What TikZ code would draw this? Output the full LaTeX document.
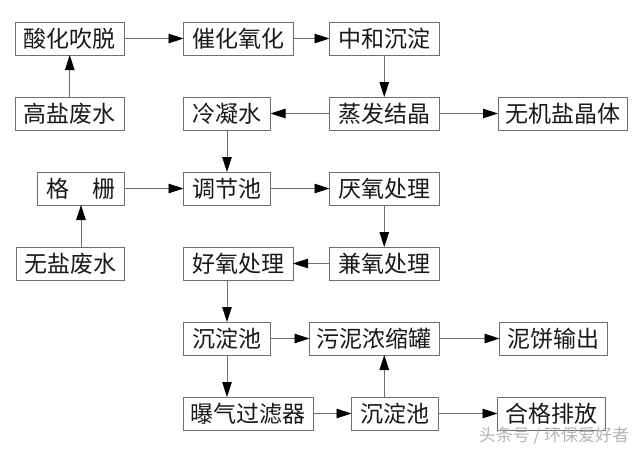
\documentclass[tikz,border=0pt]{standalone}
\usepackage{fontspec}
\setmainfont{Noto Sans CJK SC}
\usetikzlibrary{arrows.meta, positioning}
\definecolor{linegray}{HTML}{6E6E6E}
\definecolor{markgray}{HTML}{B4B4B4}

\begin{document}
\begin{tikzpicture}[x=1pt,y=-1pt,>={Triangle[length=15pt,width=9.5pt,color=black,fill=black]},
        line width=0.8pt,
        main node/.style={rectangle,draw=linegray,inner sep=0pt,outer sep=0pt,minimum height=33pt,
          font=\fontsize{23}{26}\selectfont,text=black!90},
        w3/.style={main node,minimum width=87pt},
        w4/.style={main node,minimum width=109.5pt},
        w5/.style={main node,minimum width=129.5pt},
        ws/.style={main node,minimum width=107.75pt}]
    \useasboundingbox (0,0) rectangle (640,450);
    \node[w4] (1) at (69.75,38.5) {酸化吹脱};
    \node[w4] (2) [right=59pt of 1] {催化氧化};
    \node[w4] (3) [right=36.5pt of 2] {中和沉淀};
    \node[w4] (4) [below=42pt of 1] {高盐废水};
    \node[w4] (5) [below=42pt of 3] {蒸发结晶};
    \node[w5] (6) [right=59pt of 5] {无机盐晶体};
    \node[w3] (7) [below=42pt of 2.south west, anchor=north west] {冷凝水};
    \node[w3] (8) [below=42pt of 7] {调节池};
    \node[w3] (9) [left=59pt of 8] {格　栅};
    \node[w4] (10) [below=42pt of 5] {厌氧处理};
    \node[ws] (11) [below=42pt of 9.south east, anchor=north east] {无盐废水};
    \node[w4] (12) [below=42pt of 10] {兼氧处理};
    \node[w4] (13) [below=42pt of 8.south west, anchor=north west] {好氧处理};
    \node[w3] (14) [below=42pt of 13.south west, anchor=north west] {沉淀池};
    \node[w5] (15) [below=42pt of 14.south west, anchor=north west] {曝气过滤器};
    \node[w3] (16) [right=38.5pt of 15] {沉淀池};
    \node[w5] (17) [below=42pt of 12.south east, anchor=north east] {污泥浓缩罐};
    \node[ws] (18) [right=60.5pt of 17] {泥饼输出};
    \node[ws] (19) [right=59pt of 16] {合格排放};
    \node[text=markgray, font=\fontsize{17}{18}\selectfont] (20) at (554,435.5) {头条号 / 环保爱好者};
    \path[->, color=linegray]
      (1) edge (2)
      (2) edge (3)
      (3) edge (5)
      (4) edge (1)
      (5) edge (6)
      (5) edge (7)
      (7) edge (8)
      (9) edge (8)
      (11.north -| 9.south) edge (9)
      (8) edge (10)
      (10) edge (12)
      (12) edge (13)
      (13.south -| 14.north) edge (14)
      (14) edge (15.north -| 14.south)
      (14) edge (14 -| 17.west)
      (15) edge (16)
      (16.north -| 12.south) edge (17.south -| 12.south)
      (17) edge (18)
      (16) edge (19);
  \end{tikzpicture}
\end{document}
